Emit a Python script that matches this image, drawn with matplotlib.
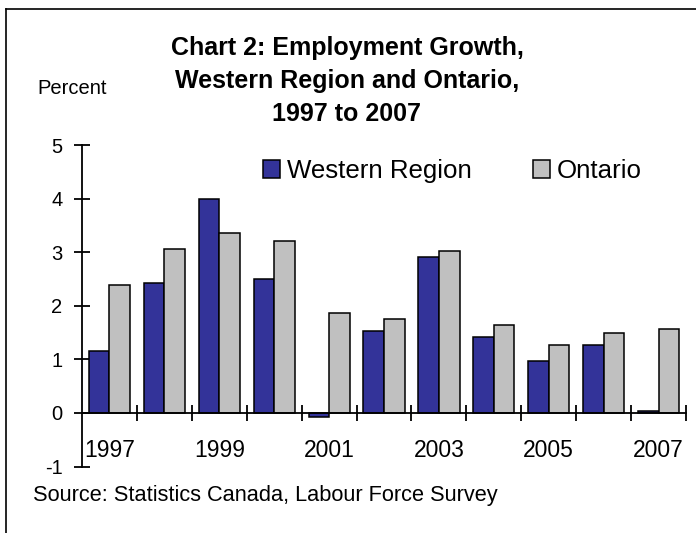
import matplotlib
matplotlib.use("Agg")
import matplotlib.pyplot as plt
from matplotlib.lines import Line2D
from matplotlib.patches import Patch
import numpy as np

plt.rcParams['font.family'] = ['Liberation Sans', 'DejaVu Sans']

years = [1997, 1998, 1999, 2000, 2001, 2002, 2003, 2004, 2005, 2006, 2007]
western = [1.16, 2.43, 3.99, 2.50, -0.07, 1.53, 2.91, 1.42, 0.97, 1.27, 0.04]
ontario = [2.38, 3.06, 3.35, 3.21, 1.86, 1.75, 3.02, 1.64, 1.27, 1.50, 1.57]
year_labels = ['1997', '', '1999', '', '2001', '', '2003', '', '2005', '', '2007']
y_ticks = [-1, 0, 1, 2, 3, 4, 5]
title_lines = ['Chart 2: Employment Growth,', 'Western Region and Ontario,', '1997 to 2007']

blue = '#333399'
grey = '#C0C0C0'

W, H = 696, 533
fig = plt.figure(figsize=(W / 100, H / 100), dpi=100)
ax = fig.add_axes([82 / W, 1 - 466.5 / H, 604 / W, 321.5 / H])

x = np.arange(len(years))
bw = 0.375
ax.bar(x - bw / 2, western, bw, color=blue, edgecolor='black', linewidth=1.1, zorder=2)
ax.bar(x + bw / 2, ontario, bw, color=grey, edgecolor='black', linewidth=1.1, zorder=2)

ax.set_xlim(-0.5, len(years) - 0.5)
ax.set_ylim(-1, 5)

# axes: left spine plus a zero line, no box
for side in ['top', 'right']:
    ax.spines[side].set_visible(False)
ax.spines['bottom'].set_position(('data', 0))
ax.spines['bottom'].set_zorder(3)
for side in ['left', 'bottom']:
    ax.spines[side].set_linewidth(1.3)

ax.set_yticks(y_ticks)
ax.set_yticklabels([str(t) for t in y_ticks], fontsize=14.5)
ax.tick_params(axis='y', direction='inout', length=12, width=1.3, pad=8)

ax.set_xticks(x)
ax.set_xticklabels(year_labels, fontsize=16.5)
ax.set_xticks(np.arange(0.5, len(years), 1), minor=True)
ax.tick_params(axis='x', which='major', length=0, pad=19)
ax.tick_params(axis='x', which='minor', direction='inout', length=12, width=1.3)

handles = [Patch(facecolor=blue, edgecolor='black', linewidth=1.1, label='Western Region'),
           Patch(facecolor=grey, edgecolor='black', linewidth=1.1, label='Ontario')]
fig.legend(handles=handles, loc='center left', bbox_to_anchor=(263 / W, 1 - 171 / H),
           ncol=2, frameon=False, fontsize=18.6, borderpad=0, borderaxespad=0,
           handlelength=0.66, handleheight=0.66, handletextpad=0.25, columnspacing=2.4)

# title drawn line by line for wider spacing
for i, line in enumerate(title_lines):
    fig.text(347 / W, 1 - (48 + 33 * i) / H, line, ha='center', va='center',
             fontsize=18, fontweight='bold')
fig.text(37 / W, 1 - 88 / H, 'Percent', ha='left', va='center', fontsize=14.5)
fig.text(33 / W, 1 - 496 / H, 'Source: Statistics Canada, Labour Force Survey',
         ha='left', va='center', fontsize=15.7)

# outer border (left and top edges)
fig.add_artist(Line2D([6 / W, 6 / W], [0, 1 - 9 / H], color='black', linewidth=1.2))
fig.add_artist(Line2D([6 / W, 1], [1 - 9 / H, 1 - 9 / H], color='black', linewidth=1.2))

fig.savefig('out.png', dpi=100)
